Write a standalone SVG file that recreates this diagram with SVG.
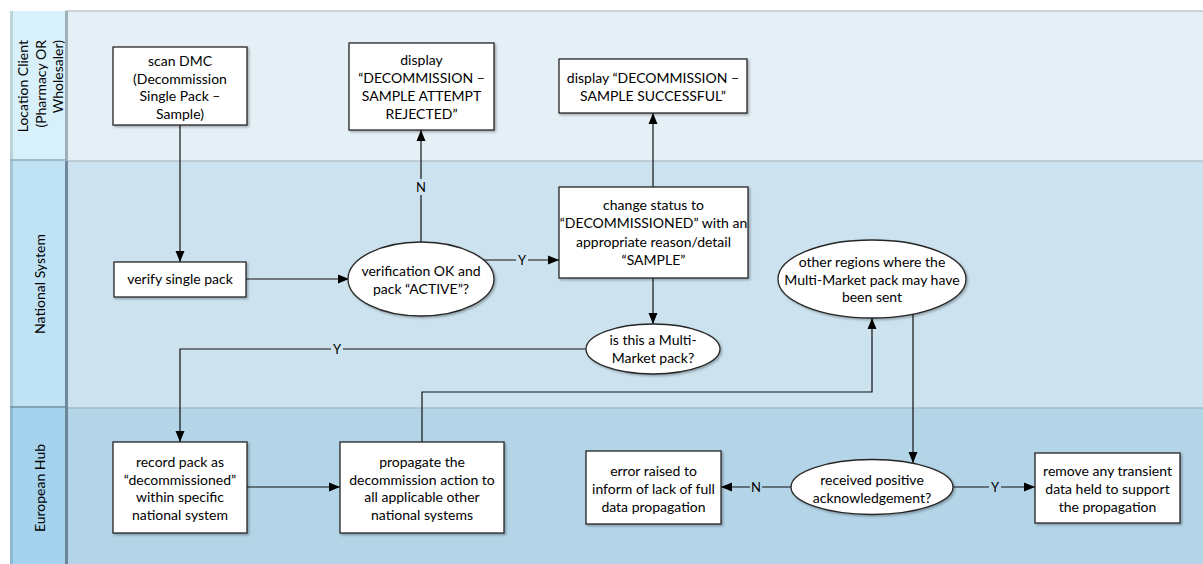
<svg xmlns="http://www.w3.org/2000/svg" width="1203" height="564" viewBox="0 0 1203 564">
  <style>
    .node { fill: #ffffff; stroke: #262626; stroke-width: 1.3; filter: url(#shadow); }
    .txt { font-family: Lato, "Liberation Sans", sans-serif; font-size: 14px; fill: #000000; text-anchor: middle; }
    .lane { font-family: Lato, "Liberation Sans", sans-serif; font-size: 14px; fill: #000000; }
    .wire { fill: none; stroke: #111111; stroke-width: 1.2; }
    .arrow { marker-end: url(#head); }
    .lbl { font-family: Lato, "Liberation Sans", sans-serif; font-size: 13px; fill: #000000; text-anchor: middle; }
  </style>
  <defs>
    <marker id="head" markerUnits="userSpaceOnUse" markerWidth="12" markerHeight="12" viewBox="0 0 12 12" refX="11" refY="6" orient="auto">
      <path d="M0,1.5 L11,6 L0,10.5 Z" fill="#000000"/>
    </marker>
    <filter id="shadow" x="-10%" y="-10%" width="125%" height="130%">
      <feDropShadow dx="1.5" dy="1.5" stdDeviation="1" flood-color="#000000" flood-opacity="0.3"/>
    </filter>
  </defs>

  <rect x="0" y="0" width="1203" height="564" fill="#ffffff"/>

  <!-- swimlanes -->
  <g id="lanes">
    <rect x="68" y="11" width="1135" height="150" fill="#e4eff6"/>
    <rect x="68" y="161" width="1135" height="247" fill="#cce3ef"/>
    <rect x="68" y="408" width="1135" height="156" fill="#b3d5e7"/>
    <line x1="66" y1="11" x2="1203" y2="11" stroke="#c2c6c8" stroke-width="1.5"/>
    <line x1="68" y1="161" x2="1203" y2="161" stroke="#b5c2c9" stroke-width="1.5"/>
    <line x1="68" y1="408" x2="1203" y2="408" stroke="#a9bbc5" stroke-width="1.5"/>

    <!-- lane headers -->
    <rect x="10" y="11" width="56" height="150" fill="#d8f0fa"/>
    <rect x="10" y="161" width="56" height="247" fill="#bfe2f5"/>
    <rect x="10" y="408" width="56" height="156" fill="#a5d3ed"/>
    <rect x="10" y="11" width="3" height="150" fill="#bcd3da"/>
    <rect x="10" y="161" width="3" height="247" fill="#a4c5d6"/>
    <rect x="10" y="408" width="3" height="156" fill="#8cb8d0"/>
    <rect x="65" y="11" width="3" height="150" fill="#9fb0b8"/>
    <rect x="65" y="161" width="3" height="247" fill="#70899a"/>
    <rect x="65" y="408" width="3" height="156" fill="#6a8596"/>
    <line x1="10" y1="160" x2="66" y2="160" stroke="#8fa8b6" stroke-width="1.5"/>
    <line x1="10" y1="407" x2="66" y2="407" stroke="#6f8c9d" stroke-width="1.5"/>

    <g transform="translate(28,40) rotate(-90)">
      <text class="lane" text-anchor="end" x="0" y="0">Location Client</text>
    </g>
    <g transform="translate(45.5,40) rotate(-90)">
      <text class="lane" text-anchor="end" x="0" y="0">(Pharmacy OR</text>
    </g>
    <g transform="translate(63,40) rotate(-90)">
      <text class="lane" text-anchor="end" x="0" y="0">Wholesaler)</text>
    </g>
    <g transform="translate(45,284) rotate(-90)">
      <text class="lane" text-anchor="middle" x="0" y="0">National System</text>
    </g>
    <g transform="translate(45,488) rotate(-90)">
      <text class="lane" text-anchor="middle" x="0" y="0">European Hub</text>
    </g>
  </g>

  <!-- connectors -->
  <g id="connectors">
    <line class="wire arrow" x1="180" y1="125" x2="180" y2="262"/>
    <line class="wire arrow" x1="246" y1="279" x2="349" y2="279"/>
    <line class="wire arrow" x1="421" y1="242" x2="421" y2="130"/>
    <line class="wire arrow" x1="484" y1="260" x2="559" y2="260"/>
    <line class="wire arrow" x1="653" y1="187" x2="653" y2="113"/>
    <line class="wire arrow" x1="653" y1="278" x2="653" y2="324"/>
    <polyline class="wire arrow" points="587,349 180,349 180,442"/>
    <line class="wire arrow" x1="247" y1="487" x2="340" y2="487"/>
    <polyline class="wire arrow" points="422,442 422,392 872,392 872,318"/>
    <line class="wire arrow" x1="913" y1="314" x2="913" y2="463"/>
    <line class="wire arrow" x1="791" y1="487" x2="721" y2="487"/>
    <line class="wire arrow" x1="953" y1="487" x2="1035" y2="487"/>

    <!-- branch labels -->
    <rect x="415" y="179" width="12" height="16" fill="#cce3ef"/>
    <text class="lbl" x="421" y="192">N</text>
    <rect x="516" y="252" width="12" height="16" fill="#cce3ef"/>
    <text class="lbl" x="522" y="265">Y</text>
    <rect x="331" y="341" width="12" height="16" fill="#cce3ef"/>
    <text class="lbl" x="337" y="354">Y</text>
    <rect x="750" y="479" width="12" height="16" fill="#b3d5e7"/>
    <text class="lbl" x="756" y="492">N</text>
    <rect x="989" y="479" width="12" height="16" fill="#b3d5e7"/>
    <text class="lbl" x="995" y="492">Y</text>
  </g>

  <!-- Location Client lane -->
  <g id="scan-dmc">
    <rect class="node" x="113" y="47" width="134" height="78"/>
    <text class="txt" x="180" y="66">scan DMC</text>
    <text class="txt" x="180" y="83.5">(Decommission</text>
    <text class="txt" x="180" y="101">Single Pack –</text>
    <text class="txt" x="180" y="118.5">Sample)</text>
  </g>
  <g id="display-rejected">
    <rect class="node" x="349" y="43" width="145" height="87"/>
    <text class="txt" x="421.5" y="65">display</text>
    <text class="txt" x="421.5" y="83">“DECOMMISSION –</text>
    <text class="txt" x="421.5" y="101">SAMPLE ATTEMPT</text>
    <text class="txt" x="421.5" y="119">REJECTED”</text>
  </g>
  <g id="display-successful">
    <rect class="node" x="559" y="59" width="188" height="54"/>
    <text class="txt" x="653" y="83">display “DECOMMISSION –</text>
    <text class="txt" x="653" y="101">SAMPLE SUCCESSFUL”</text>
  </g>

  <!-- National System lane -->
  <g id="verify-pack">
    <rect class="node" x="114" y="262" width="132" height="35"/>
    <text class="txt" x="180" y="284">verify single pack</text>
  </g>
  <g id="verification-ok">
    <ellipse class="node" cx="421" cy="279" rx="73" ry="37"/>
    <text class="txt" x="421" y="276">verification OK and</text>
    <text class="txt" x="421" y="294">pack “ACTIVE”?</text>
  </g>
  <g id="change-status">
    <rect class="node" x="559" y="187" width="189" height="91"/>
    <text class="txt" x="653.5" y="210">change status to</text>
    <text class="txt" x="653.5" y="228">“DECOMMISSIONED” with an</text>
    <text class="txt" x="653.5" y="246.5">appropriate reason/detail</text>
    <text class="txt" x="653.5" y="265">“SAMPLE”</text>
  </g>
  <g id="multi-market">
    <ellipse class="node" cx="653" cy="349" rx="67" ry="25"/>
    <text class="txt" x="653" y="345">is this a Multi-</text>
    <text class="txt" x="653" y="363">Market pack?</text>
  </g>
  <g id="other-regions">
    <ellipse class="node" cx="872" cy="279" rx="94" ry="39"/>
    <text class="txt" x="872" y="267">other regions where the</text>
    <text class="txt" x="872" y="284.5">Multi-Market pack may have</text>
    <text class="txt" x="872" y="302">been sent</text>
  </g>

  <!-- European Hub lane -->
  <g id="record-pack">
    <rect class="node" x="113" y="442" width="134" height="91"/>
    <text class="txt" x="180" y="467">record pack as</text>
    <text class="txt" x="180" y="484.5">“decommissioned”</text>
    <text class="txt" x="180" y="502">within specific</text>
    <text class="txt" x="180" y="519.5">national system</text>
  </g>
  <g id="propagate">
    <rect class="node" x="340" y="442" width="164" height="91"/>
    <text class="txt" x="422" y="467">propagate the</text>
    <text class="txt" x="422" y="484.5">decommission action to</text>
    <text class="txt" x="422" y="502">all applicable other</text>
    <text class="txt" x="422" y="519.5">national systems</text>
  </g>
  <g id="error-raised">
    <rect class="node" x="586" y="451" width="135" height="73"/>
    <text class="txt" x="653.5" y="476">error raised to</text>
    <text class="txt" x="653.5" y="494">inform of lack of full</text>
    <text class="txt" x="653.5" y="512">data propagation</text>
  </g>
  <g id="positive-ack">
    <ellipse class="node" cx="872" cy="487" rx="81" ry="27.5"/>
    <text class="txt" x="872" y="485">received positive</text>
    <text class="txt" x="872" y="503">acknowledgement?</text>
  </g>
  <g id="remove-transient">
    <rect class="node" x="1035" y="453" width="145" height="70"/>
    <text class="txt" x="1107.5" y="476">remove any transient</text>
    <text class="txt" x="1107.5" y="494">data held to support</text>
    <text class="txt" x="1107.5" y="512">the propagation</text>
  </g>
</svg>
